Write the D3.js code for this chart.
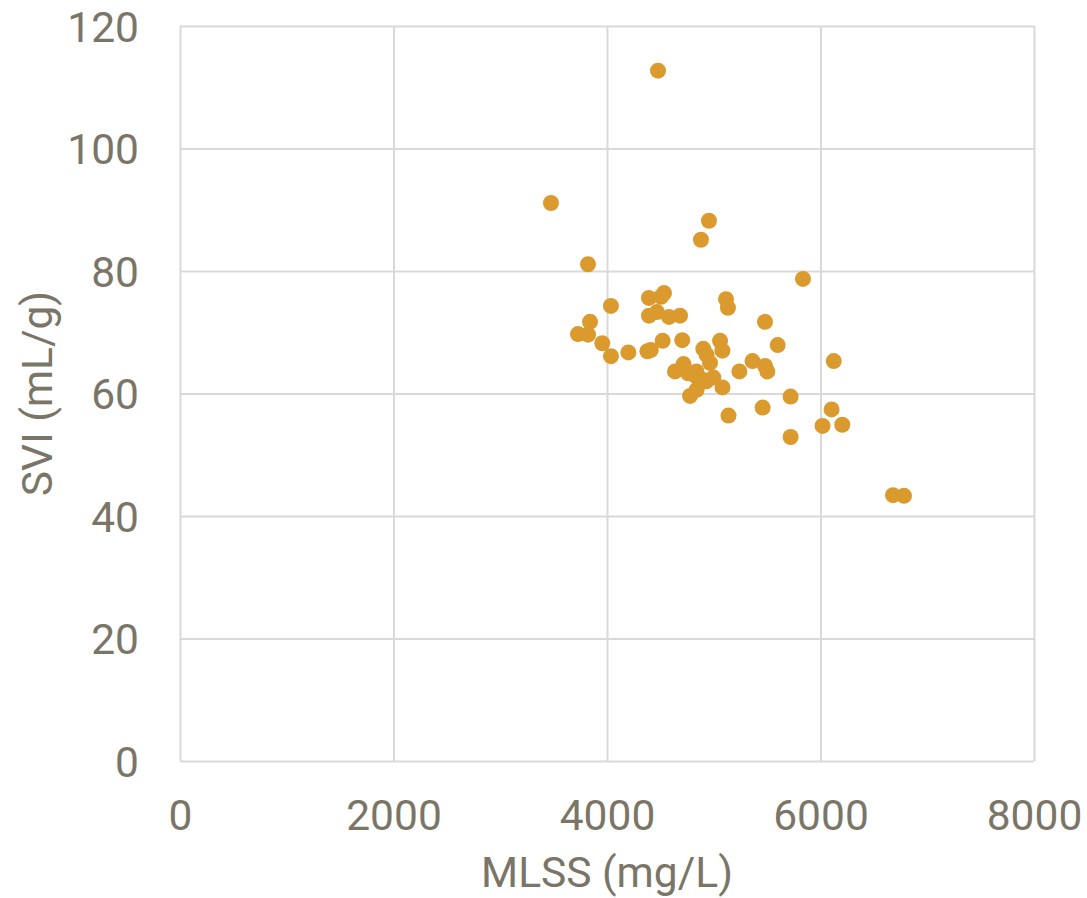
<!DOCTYPE html>
<html>
<head>
<meta charset="utf-8">
<script src="https://cdn.jsdelivr.net/npm/d3@7"></script>
<style>
  html, body { margin: 0; padding: 0; background: #ffffff; }
  svg { display: block; }
  text { font-family: Roboto, "Noto Sans", sans-serif; fill: #7a7567; }
</style>
</head>
<body>
<svg id="chart" width="1087" height="898"></svg>
<script>
// MLSS (mg/L) and SVI (mL/g) paired samples
const mlss = [
  4478, 3475, 4955, 4880, 3822, 5836, 4037, 4393, 4534, 4506,
  5115, 5133, 4393, 4468, 4581, 4684, 5480, 3728, 3822, 3841,
  3956, 4037, 4200, 4378, 4410, 4521, 4705, 5599, 6124, 4902,
  4933, 4965, 5059, 5081, 4717, 4637, 4818, 4838, 4902, 4996,
  5082, 4778, 4840, 5240, 5363, 5480, 5502, 5138, 5458, 5720,
  5720, 6104, 6019, 6204, 6679, 6782, 4760, 4870, 4930
];
const svi = [
  112.7, 91.1, 88.2, 85.1, 81.1, 78.7, 74.3, 75.6, 76.4, 75.8,
  75.4, 74.0, 72.7, 73.3, 72.5, 72.7, 71.7, 69.7, 69.6, 71.7,
  68.2, 66.1, 66.7, 66.9, 67.1, 68.6, 68.7, 67.9, 65.3, 67.3,
  66.3, 65.0, 68.6, 67.0, 64.8, 63.6, 63.0, 63.6, 62.2, 62.6,
  61.0, 59.6, 60.6, 63.6, 65.3, 64.5, 63.6, 56.4, 57.7, 59.5,
  52.9, 57.4, 54.7, 54.9, 43.4, 43.3, 63.3, 61.9, 62.0
];
const xTicks = [0, 2000, 4000, 6000, 8000];
const yTicks = [0, 20, 40, 60, 80, 100, 120];

const svg = d3.select("#chart");
const plotLeft = 180, plotRight = 1034, plotTop = 26, plotBottom = 761;

const x = d3.scaleLinear().domain([0, 8000]).range([plotLeft, plotRight]);
const y = d3.scaleLinear().domain([0, 120]).range([plotBottom, plotTop]);

const gridColor = "#d9d9d9";
const textColor = "#7a7567";
const fontSize = "42.5px";

// Gridlines
svg.append("g")
  .attr("transform", `translate(0,${plotBottom})`)
  .call(d3.axisBottom(x).tickValues(xTicks).tickSize(-(plotBottom - plotTop)).tickFormat(""))
  .call(g => g.select(".domain").remove())
  .call(g => g.selectAll("line").attr("stroke", gridColor).attr("stroke-width", 2));

svg.append("g")
  .attr("transform", `translate(${plotLeft},0)`)
  .call(d3.axisLeft(y).tickValues(yTicks).tickSize(-(plotRight - plotLeft)).tickFormat(""))
  .call(g => g.select(".domain").remove())
  .call(g => g.selectAll("line").attr("stroke", gridColor).attr("stroke-width", 2));

// Tick labels
svg.append("g")
  .attr("transform", `translate(0,${plotBottom})`)
  .call(d3.axisBottom(x).tickValues(xTicks).tickSize(0).tickPadding(0).tickFormat(d3.format("d")))
  .call(g => g.select(".domain").remove())
  .call(g => g.selectAll("text")
    .attr("y", 69).attr("dy", null)
    .style("font-size", fontSize)
    .style("font-family", "Roboto, sans-serif")
    .attr("fill", textColor));

svg.append("g")
  .attr("transform", `translate(${plotLeft},0)`)
  .call(d3.axisLeft(y).tickValues(yTicks).tickSize(0).tickPadding(0).tickFormat(d3.format("d")))
  .call(g => g.select(".domain").remove())
  .call(g => g.selectAll("text")
    .attr("x", -41).attr("dy", "0.36em")
    .style("font-size", fontSize)
    .style("font-family", "Roboto, sans-serif")
    .attr("fill", textColor));

// Axis titles
svg.append("text")
  .attr("x", (plotLeft + plotRight) / 2)
  .attr("y", 887)
  .attr("text-anchor", "middle")
  .style("font-size", fontSize)
  .text("MLSS (mg/L)");

svg.append("text")
  .attr("transform", `translate(52,${(plotTop + plotBottom) / 2}) rotate(-90)`)
  .attr("text-anchor", "middle")
  .style("font-size", fontSize)
  .text("SVI (mL/g)");

// Points
const pts = mlss.map((v, i) => ({ x: v, y: svi[i] }));
svg.append("g")
  .selectAll("circle")
  .data(pts)
  .join("circle")
  .attr("cx", d => x(d.x))
  .attr("cy", d => y(d.y))
  .attr("r", 8)
  .attr("fill", "#db9a2d");
</script>
</body>
</html>
